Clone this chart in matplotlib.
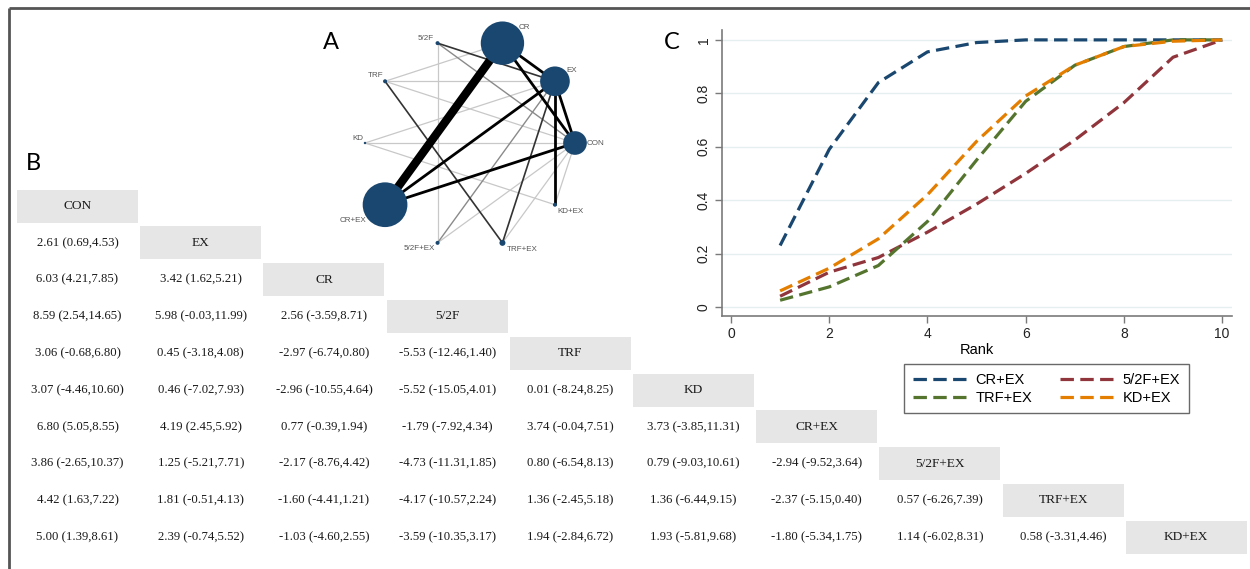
import numpy as np
import matplotlib
matplotlib.use("Agg")
import matplotlib.pyplot as plt
from matplotlib.patches import Rectangle, Circle

# ---------------- data ----------------
treatments = ["CON", "EX", "CR", "5/2F", "TRF", "KD", "CR+EX", "5/2F+EX", "TRF+EX", "KD+EX"]

# league table (row treatment vs column treatment), lower triangle
league_rows = [
    [],
    ["2.61 (0.69,4.53)"],
    ["6.03 (4.21,7.85)", "3.42 (1.62,5.21)"],
    ["8.59 (2.54,14.65)", "5.98 (-0.03,11.99)", "2.56 (-3.59,8.71)"],
    ["3.06 (-0.68,6.80)", "0.45 (-3.18,4.08)", "-2.97 (-6.74,0.80)", "-5.53 (-12.46,1.40)"],
    ["3.07 (-4.46,10.60)", "0.46 (-7.02,7.93)", "-2.96 (-10.55,4.64)", "-5.52 (-15.05,4.01)",
     "0.01 (-8.24,8.25)"],
    ["6.80 (5.05,8.55)", "4.19 (2.45,5.92)", "0.77 (-0.39,1.94)", "-1.79 (-7.92,4.34)",
     "3.74 (-0.04,7.51)", "3.73 (-3.85,11.31)"],
    ["3.86 (-2.65,10.37)", "1.25 (-5.21,7.71)", "-2.17 (-8.76,4.42)", "-4.73 (-11.31,1.85)",
     "0.80 (-6.54,8.13)", "0.79 (-9.03,10.61)", "-2.94 (-9.52,3.64)"],
    ["4.42 (1.63,7.22)", "1.81 (-0.51,4.13)", "-1.60 (-4.41,1.21)", "-4.17 (-10.57,2.24)",
     "1.36 (-2.45,5.18)", "1.36 (-6.44,9.15)", "-2.37 (-5.15,0.40)", "0.57 (-6.26,7.39)"],
    ["5.00 (1.39,8.61)", "2.39 (-0.74,5.52)", "-1.03 (-4.60,2.55)", "-3.59 (-10.35,3.17)",
     "1.94 (-2.84,6.72)", "1.93 (-5.81,9.68)", "-1.80 (-5.34,1.75)", "1.14 (-6.02,8.31)",
     "0.58 (-3.31,4.46)"],
]

# network plot (panel A)
net_nodes = ["CR", "EX", "CON", "KD+EX", "TRF+EX", "5/2F+EX", "CR+EX", "KD", "TRF", "5/2F"]
net_node_size = [470, 220, 140, 4, 9, 4, 500, 1, 4, 4]   # relative node weight
net_edges = [
    ("CR", "CR+EX", 15), ("CR", "EX", 4), ("CR", "CON", 4), ("EX", "CON", 3),
    ("EX", "CR+EX", 3), ("CON", "CR+EX", 3), ("EX", "KD+EX", 3), ("EX", "TRF+EX", 2),
    ("5/2F", "EX", 2), ("TRF", "TRF+EX", 2), ("EX", "5/2F+EX", 1.5), ("TRF", "EX", 1),
    ("TRF", "CON", 1), ("TRF", "CR", 1), ("KD", "EX", 1), ("KD", "CON", 1),
    ("KD", "KD+EX", 1), ("5/2F", "5/2F+EX", 1), ("5/2F", "CON", 1.5), ("CON", "TRF+EX", 1),
    ("CON", "5/2F+EX", 1), ("CON", "KD+EX", 1),
]

# cumulative ranking (panel C)
rank = [1, 2, 3, 4, 5, 6, 7, 8, 9, 10]
cr_ex = [0.23, 0.59, 0.84, 0.955, 0.99, 1.0, 1.0, 1.0, 1.0, 1.0]
f52_ex = [0.04, 0.13, 0.185, 0.28, 0.385, 0.50, 0.625, 0.765, 0.935, 1.0]
trf_ex = [0.025, 0.075, 0.155, 0.32, 0.55, 0.77, 0.905, 0.975, 1.0, 1.0]
kd_ex = [0.06, 0.145, 0.255, 0.42, 0.62, 0.79, 0.905, 0.975, 0.995, 1.0]

# ---------------- figure ----------------
W, H = 1250, 569
fig = plt.figure(figsize=(W / 100, H / 100), dpi=100)
fig.patch.set_facecolor("white")

ax0 = fig.add_axes([0, 0, 1, 1])
ax0.set_xlim(0, W)
ax0.set_ylim(H, 0)
ax0.axis("off")

# outer frame (top and left)
ax0.plot([9, W], [7.5, 7.5], color="#555555", lw=2, solid_capstyle="butt")
ax0.plot([9, 9], [7.5, H], color="#555555", lw=2, solid_capstyle="butt")

# panel letters
for lab, (x, y) in {"A": (331, 42), "B": (33, 163), "C": (672, 42)}.items():
    ax0.text(x, y, lab, fontsize=17, family="Lato", ha="center", va="center", color="black")

# ---------------- league table (B) ----------------
x0, y0, dx, dy, cw, ch = 17, 189.5, 123.2, 36.8, 121, 33
serif = "Liberation Serif"
for i, name in enumerate(treatments):
    cx = x0 + i * dx
    cy = y0 + i * dy
    ax0.add_patch(Rectangle((cx, cy), cw, ch, facecolor="#e6e6e6", edgecolor="none"))
    ax0.text(cx + cw / 2, cy + ch / 2, name, family=serif, fontsize=9.6, ha="center",
             va="center", color="#1a1a1a")
    for j, val in enumerate(league_rows[i]):
        ax0.text(x0 + j * dx + cw / 2, cy + ch / 2, val, family=serif, fontsize=9.2,
                 ha="center", va="center", color="#1a1a1a")

# ---------------- network (A) ----------------
ncx, ncy, nr = 470, 143, 105
angles = np.deg2rad(72 - 36 * np.arange(len(net_nodes)))
pos = {n: (ncx + nr * np.cos(a), ncy - nr * np.sin(a)) for n, a in zip(net_nodes, angles)}
rad = {n: 1.0 * np.sqrt(s) for n, s in zip(net_nodes, net_node_size)}

def edge_style(w):
    if w >= 10:
        return "black", 6.0
    if w >= 3:
        return "black", 2.0
    if w >= 2:
        return "#333333", 1.2
    if w >= 1.5:
        return "#8a8a8a", 1.0
    return "#c8c8c8", 0.9

for a, b, w in sorted(net_edges, key=lambda e: e[2]):
    col, lw = edge_style(w)
    ax0.plot([pos[a][0], pos[b][0]], [pos[a][1], pos[b][1]], color=col, lw=lw,
             solid_capstyle="butt", zorder=2)

for n in net_nodes:
    ax0.add_patch(Circle(pos[n], max(rad[n], 1.2), facecolor="#1a476f",
                         edgecolor="none", zorder=3))

label_off = {
    "CR": (16, -16, "left"), "EX": (11, -11, "left"), "CON": (12, 0, "left"),
    "KD+EX": (2, 7, "left"), "TRF+EX": (4, 7, "left"), "5/2F+EX": (-3, 6, "right"),
    "CR+EX": (-19, 16, "right"), "KD": (-2, -5, "right"), "TRF": (-2, -6, "right"),
    "5/2F": (-4, -5, "right"),
}
for n in net_nodes:
    ox, oy, ha = label_off[n]
    ax0.text(pos[n][0] + ox, pos[n][1] + oy, n, fontsize=5.8, family="Liberation Sans",
             ha=ha, va="center", color="#555555", zorder=4)

# ---------------- cumulative ranking (C) ----------------
axl, axr, axt, axb = 722, 1232, 30, 316
axc = fig.add_axes([axl / W, 1 - axb / H, (axr - axl) / W, (axb - axt) / H])
axc.set_xlim(-0.183, 10.2)
axc.set_ylim(-0.034, 1.037)
for s in ["top", "right"]:
    axc.spines[s].set_visible(False)
for s in ["left", "bottom"]:
    axc.spines[s].set_color("#7a7a7a")
    axc.spines[s].set_linewidth(1.2)

yt = [0, 0.2, 0.4, 0.6, 0.8, 1.0]
axc.set_yticks(yt)
axc.set_yticklabels(["0", "0.2", "0.4", "0.6", "0.8", "1"], rotation=90, va="center")
axc.set_xticks([0, 2, 4, 6, 8, 10])
axc.tick_params(axis="both", labelsize=10, labelcolor="#222222", color="#7a7a7a",
                length=5, width=1.0, labelfontfamily="Liberation Sans")
axc.tick_params(axis="x", pad=3)
axc.tick_params(axis="y", pad=3)
for t in yt:
    axc.axhline(t, color="#e6eff0", lw=1, zorder=0)
axc.set_xlabel("Rank", fontsize=10.5, family="Liberation Sans", labelpad=1)

series = [
    ("CR+EX", cr_ex, "#1a476f"),
    ("5/2F+EX", f52_ex, "#90353b"),
    ("TRF+EX", trf_ex, "#55752f"),
    ("KD+EX", kd_ex, "#e37e00"),
]
handles = {}
for name, vals, col in series:
    (ln,) = axc.plot(rank, vals, color=col, lw=2.3, linestyle=(0, (4.2, 2.0)),
                     dash_capstyle="butt")
    handles[name] = ln

order = ["CR+EX", "TRF+EX", "5/2F+EX", "KD+EX"]
leg = fig.legend([handles[k] for k in order], order, ncol=2, loc="upper left",
                 bbox_to_anchor=(897 / W, 1 - 357 / H), frameon=True, fancybox=False,
                 edgecolor="#444444", handlelength=3.6,
                 prop={"family": "Liberation Sans", "size": 10.5},
                 columnspacing=1.9, handletextpad=0.7, borderpad=0.6, labelspacing=0.25)
leg.get_frame().set_linewidth(1.0)

fig.savefig("out.png", dpi=100, facecolor="white")
